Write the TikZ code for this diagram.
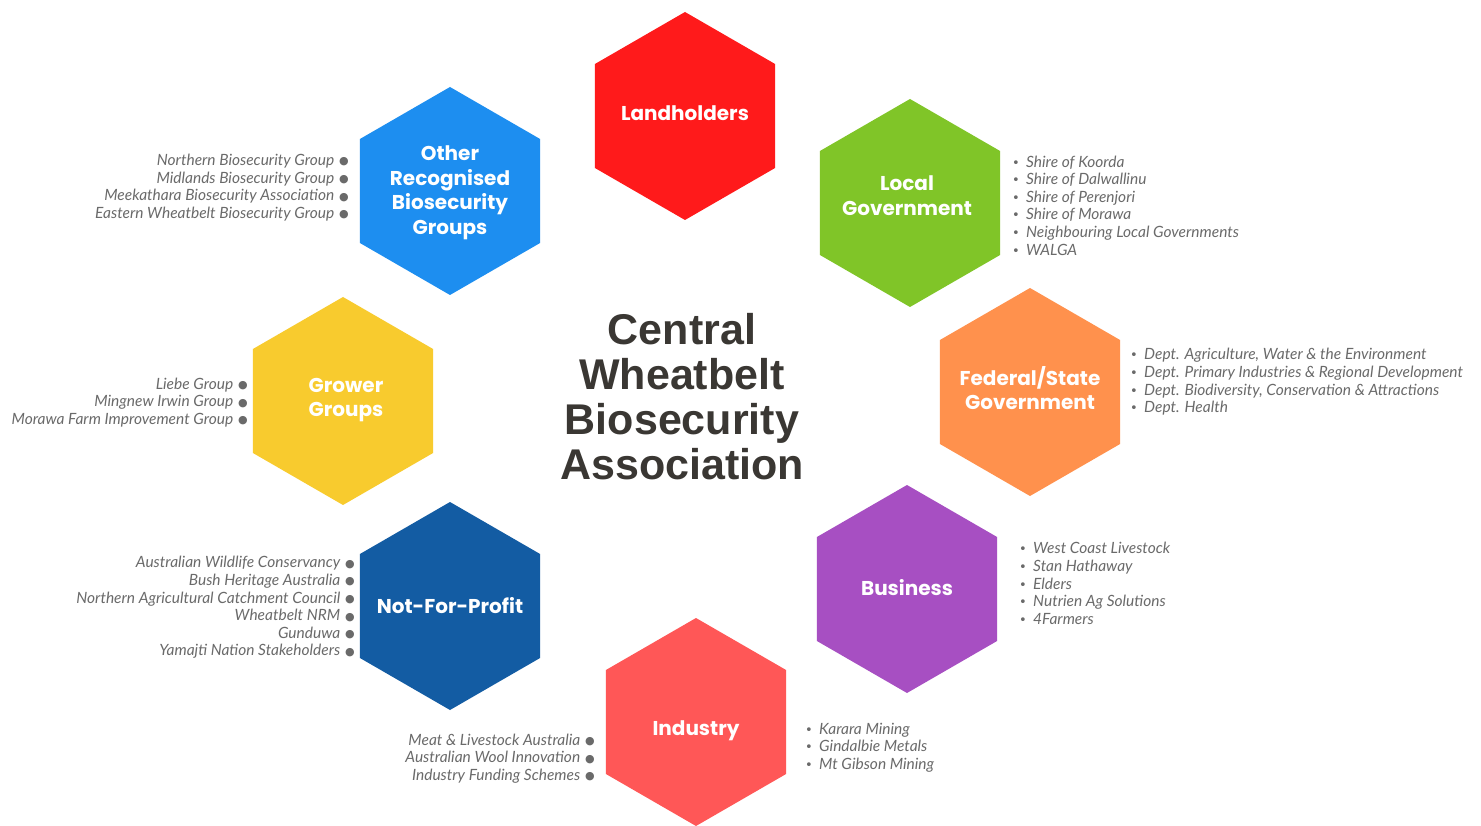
\documentclass[tikz,border=0pt]{standalone}
\usepackage{fontspec}
\setmainfont{Liberation Sans}
\newfontfamily\hexfont{Poppins}
\newfontfamily\listfont{Lato}
\newfontfamily\dvfont{DejaVu Sans}
\newfontfamily\titlefont{Liberation Sans}
\definecolor{cland}{HTML}{FF1A1B}
\definecolor{cother}{HTML}{1D8EF0}
\definecolor{clocal}{HTML}{80C528}
\definecolor{cfed}{HTML}{FF914D}
\definecolor{cgrow}{HTML}{F8CB2E}
\definecolor{cnfp}{HTML}{135CA3}
\definecolor{cbus}{HTML}{A74FC2}
\definecolor{cind}{HTML}{FF5757}
\definecolor{listgrey}{HTML}{6A6A6A}
\definecolor{titlegrey}{HTML}{3A3733}
\newcommand\hexa[3]{\fill[#1] (#2,#3) +(30:104) -- +(90:104) -- +(150:104) -- +(210:104) -- +(270:104) -- +(330:104) -- cycle;}
\newcommand\ldot{\hspace{5pt}\raisebox{0.5pt}{\dvfont\fontsize{11}{11}\selectfont ●}}
\newcommand\rbul{\makebox[14pt][l]{\dvfont\fontsize{13}{13}\selectfont •}}
\tikzset{
  hexlabel/.style={text=white, font=\hexfont\bfseries\fontsize{20}{24.5}\selectfont, align=center, inner sep=0pt},
  listL/.style={anchor=east, align=right, text=listgrey, font=\listfont\itshape\fontsize{15.5}{17.6}\selectfont, inner sep=0pt},
  listR/.style={anchor=west, align=left, text=listgrey, font=\listfont\itshape\fontsize{15.5}{17.6}\selectfont, inner sep=0pt},
  title/.style={text=titlegrey, font=\titlefont\bfseries\fontsize{43}{45}\selectfont, align=center, inner sep=0pt}
}
\begin{document}
\begin{tikzpicture}[x=1pt,y=-1pt]
\useasboundingbox (0,0) rectangle (1481,826);
\fill[white] (0,0) rectangle (1481,826);
% hexagons
\hexa{cland}{685}{116}
\hexa{cother}{450}{191}
\hexa{clocal}{910}{203}
\hexa{cgrow}{343}{401}
\hexa{cfed}{1030}{392}
\hexa{cnfp}{450}{606}
\hexa{cbus}{907}{589}
\hexa{cind}{696}{722}
% hexagon labels
\node[hexlabel] (land) at (685,113) {Landholders};
\node[hexlabel] (other) at (450,193) {Other\\Recognised\\Biosecurity\\Groups};
\node[hexlabel] (local) at (907,195.5) {Local\\Government};
\node[hexlabel] (grow) at (346,400) {Grower\\Groups};
\node[hexlabel] (fed) at (1030,388) {Federal/State\\Government};
\node[hexlabel] (nfp) at (450,606) {Not-For-Profit};
\node[hexlabel] (bus) at (907,588) {Business};
\node[hexlabel] (ind) at (696,731) {Industry};
% title
\node[title] (cwba) at (682,396.5) {Central\\Wheatbelt\\Biosecurity\\Association};
% left lists
\node[listL] (otherlist) at (349,187.5) {Northern Biosecurity Group\ldot\\Midlands Biosecurity Group\ldot\\Meekathara Biosecurity Association\ldot\\Eastern Wheatbelt Biosecurity Group\ldot};
\node[listL] (growlist) at (248,402.5) {Liebe Group\ldot\\Mingnew Irwin Group\ldot\\Morawa Farm Improvement Group\ldot};
\node[listL] (nfplist) at (355,607.5) {Australian Wildlife Conservancy\ldot\\Bush Heritage Australia\ldot\\Northern Agricultural Catchment Council\ldot\\Wheatbelt NRM\ldot\\Gunduwa\ldot\\Yamajti Nation Stakeholders\ldot};
\node[listL] (indlistl) at (595,758.5) {Meat \& Livestock Australia\ldot\\Australian Wool Innovation\ldot\\Industry Funding Schemes\ldot};
% right lists
\node[listR] (locallist) at (1012,205.5) {\rbul Shire of Koorda\\\rbul Shire of Dalwallinu\\\rbul Shire of Perenjori\\\rbul Shire of Morawa\\\rbul Neighbouring Local Governments\\\rbul WALGA};
\node[listR] (fedlist) at (1130,382) {\rbul Dept. Agriculture, Water \& the Environment\\\rbul Dept. Primary Industries \& Regional Development\\\rbul Dept. Biodiversity, Conservation \& Attractions\\\rbul Dept. Health};
\node[listR] (buslist) at (1019,583.5) {\rbul West Coast Livestock\\\rbul Stan Hathaway\\\rbul Elders\\\rbul Nutrien Ag Solutions\\\rbul 4Farmers};
\node[listR] (indlistr) at (805,747.5) {\rbul Karara Mining\\\rbul Gindalbie Metals\\\rbul Mt Gibson Mining};
\end{tikzpicture}
\end{document}
